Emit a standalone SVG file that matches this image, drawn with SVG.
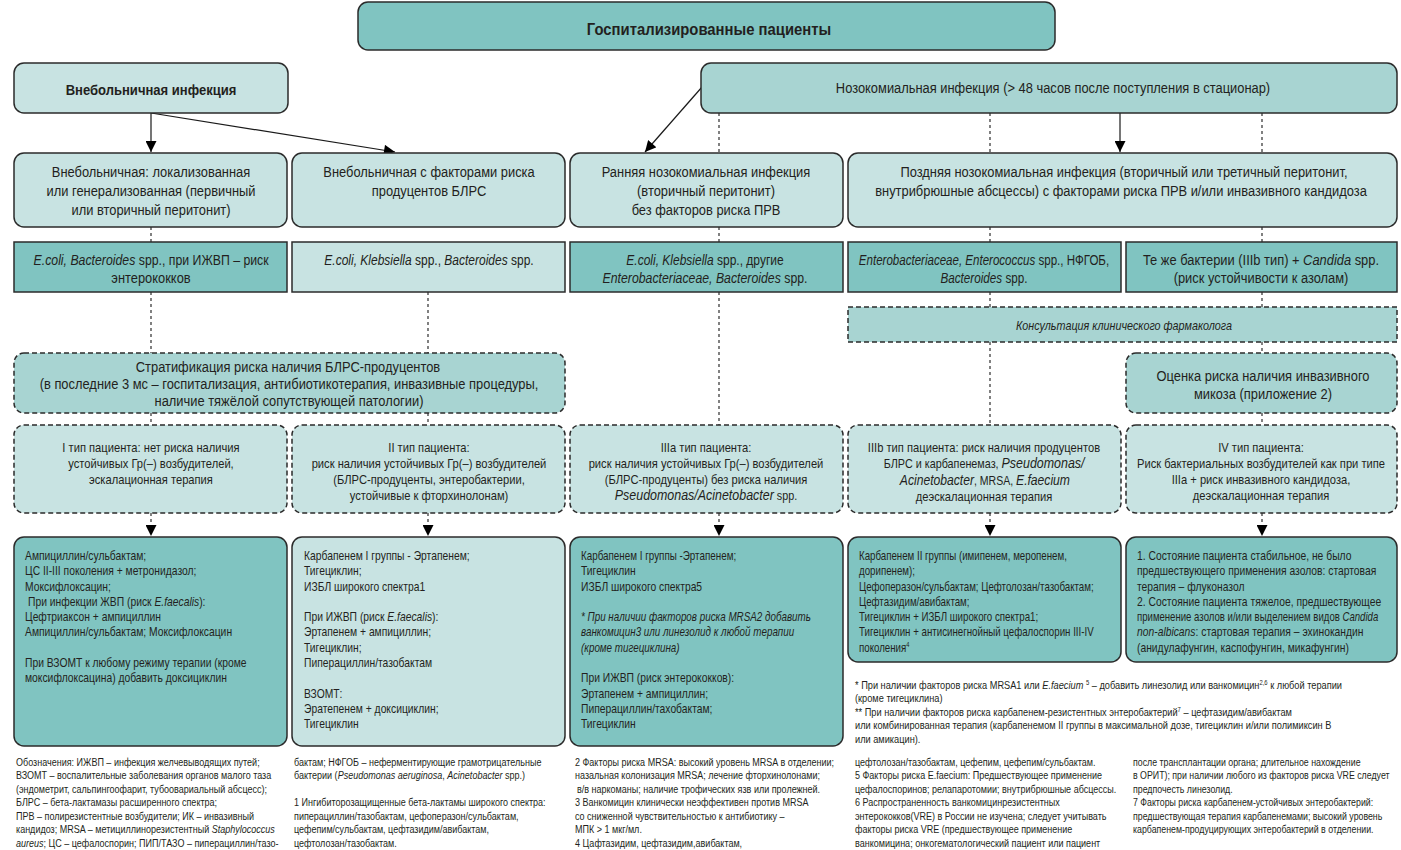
<svg xmlns="http://www.w3.org/2000/svg" width="1401" height="850" viewBox="0 0 1401 850">
<defs>
<style>
text{font-family:"Liberation Sans",Arial,sans-serif;fill:#231f20;transform-box:fill-box;transform-origin:0% 50%;transform:scaleX(.86)}
.c{text-anchor:middle;transform-origin:50% 50%}
.i{font-style:italic}
.b{font-weight:bold;transform:scaleX(.9)}
.x77{transform:scaleX(.77)}
.x78{transform:scaleX(.78)}
.x80{transform:scaleX(.80)}
.x81{transform:scaleX(.81)}
.x82{transform:scaleX(.82)}
.x83{transform:scaleX(.83)}
.x84{transform:scaleX(.84)}
.x90{transform:scaleX(.90)}
.dk{fill:#80c4c1;stroke:#2b2b2b;stroke-width:1.5}
.lt{fill:#c8e3e2;stroke:#2b2b2b;stroke-width:1.5}
.md{fill:#a8d4d2;stroke:#2b2b2b;stroke-width:1.5}
.ds{stroke-dasharray:5 3}
.s15{font-size:15px}
.s13{font-size:13px}
.s12{font-size:12px}
.s11{font-size:11px}
.ln{stroke:#1a1a1a;stroke-width:1.2;fill:none}
.dt{stroke:#1a1a1a;stroke-width:1.1;fill:none;stroke-dasharray:3 3}
</style>
<marker id="ah" viewBox="0 0 10 10" refX="10" refY="5" markerWidth="12" markerHeight="11" markerUnits="userSpaceOnUse" orient="auto">
<path d="M0,0 L10,5 L0,10 z" fill="#000"/>
</marker>
</defs>
<rect width="1401" height="850" fill="#fff"/>

<g id="connectors">
<path class="ln" d="M151,113 V152" marker-end="url(#ah)"/>
<path class="ln" d="M151,113 L395,152" marker-end="url(#ah)"/>
<path class="ln" d="M702,87 L645,152" marker-end="url(#ah)"/>
<path class="ln" d="M1120,113 V152" marker-end="url(#ah)"/>
<path class="dt" d="M719,113 V153 M990,113 V153 M1262,113 V153"/>
<path class="dt" d="M151,227 V242 M151,292 V353 M151,413 V425"/>
<path class="dt" d="M428,292 V353 M428,413 V425"/>
<path class="dt" d="M719,227 V242 M719,292 V425"/>
<path class="dt" d="M990,227 V242 M990,292 V307 M990,342 V425"/>
<path class="dt" d="M1262,227 V242 M1262,292 V307 M1262,342 V353 M1262,413 V425"/>
<path class="dt" d="M151,513 V536" marker-end="url(#ah)"/>
<path class="dt" d="M428,513 V536" marker-end="url(#ah)"/>
<path class="dt" d="M719,513 V536" marker-end="url(#ah)"/>
<path class="dt" d="M990,513 V536" marker-end="url(#ah)"/>
<path class="dt" d="M1262,513 V536" marker-end="url(#ah)"/>
</g>

<g id="n-hosp">
<rect class="dk" x="358" y="2" width="697" height="48" rx="10"/>
<text class="c b" x="709" y="35" font-size="16.5">Госпитализированные пациенты</text>
</g>
<g id="n-vneb">
<rect class="lt" x="14" y="63" width="274" height="50" rx="10"/>
<text class="c b" x="151" y="95" font-size="14.5">Внебольничная инфекция</text>
</g>
<g id="n-nozo">
<rect class="md" x="701" y="63" width="696" height="50" rx="10"/>
<text class="c s15" x="1053" y="93">Нозокомиальная инфекция (&gt; 48 часов после поступления в стационар)</text>
</g>

<g id="n-r2a">
<rect class="lt" x="14" y="153" width="273" height="74" rx="10"/>
<text class="c s15" x="151" y="177">Внебольничная: локализованная</text>
<text class="c s15" x="151" y="196">или генерализованная (первичный</text>
<text class="c s15" x="151" y="215">или вторичный перитонит)</text>
</g>
<g id="n-r2b">
<rect class="lt" x="292" y="153" width="273" height="74" rx="10"/>
<text class="c s15" x="429" y="177">Внебольничная с факторами риска</text>
<text class="c s15" x="429" y="196">продуцентов БЛРС</text>
</g>
<g id="n-r2c">
<rect class="lt" x="570" y="153" width="273" height="74" rx="10"/>
<text class="c s15" x="706" y="177">Ранняя нозокомиальная инфекция</text>
<text class="c s15" x="706" y="196">(вторичный перитонит)</text>
<text class="c s15" x="706" y="215">без факторов риска ПРВ</text>
</g>
<g id="n-r2d">
<rect class="lt" x="848" y="153" width="549" height="74" rx="10"/>
<text class="c s15" x="1124" y="177">Поздняя нозокомиальная инфекция (вторичный или третичный перитонит,</text>
<text class="c s15" x="1121" y="196">внутрибрюшные абсцессы) с факторами риска ПРВ и/или инвазивного кандидоза</text>
</g>

<g id="n-r3a">
<rect class="dk" x="14" y="242" width="273" height="50"/>
<text class="c s15 x82" x="151" y="265"><tspan class="i">E.coli, Bacteroides</tspan> spp., при ИЖВП – риск</text>
<text class="c s15" x="151" y="283">энтерококков</text>
</g>
<g id="n-r3b">
<rect class="lt" x="292" y="242" width="273" height="50"/>
<text class="c s15 x80" x="429" y="265"><tspan class="i">E.coli, Klebsiella</tspan> spp., <tspan class="i">Bacteroides</tspan> spp.</text>
</g>
<g id="n-r3c">
<rect class="dk" x="570" y="242" width="273" height="50"/>
<text class="c s15 x80" x="705" y="265"><tspan class="i">E.coli, Klebsiella</tspan> spp., другие</text>
<text class="c s15 x82" x="705" y="283"><tspan class="i">Enterobacteriaceae, Bacteroides</tspan> spp.</text>
</g>
<g id="n-r3d">
<rect class="dk" x="848" y="242" width="273" height="50"/>
<text class="c s15 x77" x="984" y="265"><tspan class="i">Enterobacteriaceae, Enterococcus</tspan> spp., НФГОБ,</text>
<text class="c s15 x78" x="984" y="283"><tspan class="i">Bacteroides</tspan> spp.</text>
</g>
<g id="n-r3e">
<rect class="dk" x="1126" y="242" width="271" height="50"/>
<text class="c s15" x="1261" y="265">Те же бактерии (IIIb тип) + <tspan class="i">Candida</tspan> spp.</text>
<text class="c s15" x="1261" y="283">(риск устойчивости к азолам)</text>
</g>

<g id="n-consult">
<rect class="md ds" x="848" y="307" width="549" height="35"/>
<text class="c i s12 x90" x="1124" y="330">Консультация клинического фармаколога</text>
</g>
<g id="n-strat">
<rect class="md ds" x="14" y="353" width="551" height="60" rx="10"/>
<text class="c s15" x="288" y="372">Стратификация риска наличия  БЛРС-продуцентов</text>
<text class="c s15" x="289" y="389">(в последние 3 мс – госпитализация, антибиотикотерапия, инвазивные процедуры,</text>
<text class="c s15" x="289" y="406">наличие тяжёлой сопутствующей  патологии)</text>
</g>
<g id="n-mycosis">
<rect class="md ds" x="1126" y="353" width="271" height="60" rx="10"/>
<text class="c s15" x="1263" y="381">Оценка риска наличия  инвазивного</text>
<text class="c s15" x="1263" y="399">микоза  (приложение 2)</text>
</g>

<g id="n-t1">
<rect class="lt ds" x="14" y="425" width="273" height="88" rx="10"/>
<text class="c s13" x="151" y="452">I тип пациента:  нет риска наличия</text>
<text class="c s13" x="151" y="468">устойчивых Гр(–) возбудителей,</text>
<text class="c s13" x="151" y="484">эскалационная терапия</text>
</g>
<g id="n-t2">
<rect class="lt ds" x="292" y="425" width="273" height="88" rx="10"/>
<text class="c s13" x="429" y="452">II тип пациента:</text>
<text class="c s13" x="429" y="468">риск наличия устойчивых Гр(–)  возбудителей</text>
<text class="c s13" x="429" y="484">(БЛРС-продуценты, энтеробактерии,</text>
<text class="c s13" x="429" y="500">устойчивые к фторхинолонам)</text>
</g>
<g id="n-t3a">
<rect class="lt ds" x="570" y="425" width="273" height="88" rx="10"/>
<text class="c s13" x="706" y="452">IIIa тип пациента:</text>
<text class="c s13" x="706" y="468">риск наличия устойчивых Гр(–)  возбудителей</text>
<text class="c s13" x="706" y="484">(БЛРС-продуценты)  без риска наличия</text>
<text class="c s13 x83" x="706" y="500"><tspan class="i" font-size="15">Pseudomonas/Acinetobacter</tspan> spp.</text>
</g>
<g id="n-t3b">
<rect class="lt ds" x="848" y="425" width="273" height="88" rx="10"/>
<text class="c s13" x="984" y="452">IIIb тип пациента:  риск наличия продуцентов</text>
<text class="c s13 x83" x="984" y="468">БЛРС и карбапенемаз, <tspan class="i" font-size="15">Pseudomonas/</tspan></text>
<text class="c s13 x81" x="985" y="485"><tspan class="i" font-size="15">Acinetobacter</tspan>, MRSA, <tspan class="i" font-size="15">E.faecium</tspan></text>
<text class="c s13" x="984" y="501">деэскалационная терапия</text>
</g>
<g id="n-t4">
<rect class="lt ds" x="1126" y="425" width="271" height="88" rx="10"/>
<text class="c s13" x="1261" y="452">IV тип пациента:</text>
<text class="c s13" x="1261" y="468">Риск бактериальных возбудителей как при типе</text>
<text class="c s13" x="1261" y="484">IIIa + риск инвазивного кандидоза,</text>
<text class="c s13" x="1261" y="500">деэскалационная терапия</text>
</g>

<g id="n-rx1">
<rect class="dk" x="14" y="537" width="273" height="209" rx="10"/>
<text class="s12" x="25" y="560">Ампициллин/сульбактам;</text>
<text class="s12" x="25" y="575.3">ЦС II-III поколения + метронидазол;</text>
<text class="s12" x="25" y="590.6">Моксифлоксацин;</text>
<text class="s12" x="28" y="605.9">При инфекции ЖВП (риск <tspan class="i">E.faecalis</tspan>):</text>
<text class="s12" x="25" y="621.2">Цефтриаксон + ампициллин</text>
<text class="s12" x="25" y="636.5">Ампициллин/сульбактам; Моксифлоксацин</text>
<text class="s12" x="25" y="667.1">При ВЗОМТ к любому режиму терапии (кроме</text>
<text class="s12" x="25" y="682.4">моксифлоксацина) добавить доксициклин</text>
</g>
<g id="n-rx2">
<rect class="lt" x="292" y="537" width="273" height="209" rx="10"/>
<text class="s12" x="304" y="560">Карбапенем I группы - Эртапенем;</text>
<text class="s12" x="304" y="575.3">Тигециклин;</text>
<text class="s12" x="304" y="590.6">ИЗБЛ широкого спектра1</text>
<text class="s12" x="304" y="621.2">При ИЖВП (риск <tspan class="i">E.faecalis</tspan>):</text>
<text class="s12" x="304" y="636.5">Эртапенем + ампициллин;</text>
<text class="s12" x="304" y="651.8">Тигециклин;</text>
<text class="s12" x="304" y="667.1">Пиперациллин/тазобактам</text>
<text class="s12" x="304" y="697.7">ВЗОМТ:</text>
<text class="s12" x="304" y="713">Эратепенем + доксициклин;</text>
<text class="s12" x="304" y="728.3">Тигециклин</text>
</g>
<g id="n-rx3">
<rect class="dk" x="570" y="537" width="273" height="209" rx="10"/>
<text class="s12 x82" x="581" y="560">Карбапенем I группы -Эртапенем;</text>
<text class="s12" x="581" y="575.3">Тигециклин</text>
<text class="s12" x="581" y="590.6">ИЗБЛ широкого спектра5</text>
<text class="s12 i x82" x="581" y="621.2">* При наличии факторов риска MRSA2 добавить</text>
<text class="s12 i x82" x="581" y="636.5">ванкомицин3 или линезолид к любой терапии</text>
<text class="s12 i x82" x="581" y="651.8">(кроме тигециклина)</text>
<text class="s12" x="581" y="682.4">При ИЖВП (риск энтерококков):</text>
<text class="s12" x="581" y="697.7">Эртапенем + ампициллин;</text>
<text class="s12" x="581" y="713">Пиперациллин/тахобактам;</text>
<text class="s12" x="581" y="728.3">Тигециклин</text>
</g>
<g id="n-rx4">
<rect class="dk" x="848" y="537" width="273" height="125" rx="10"/>
<text class="s12 x81" x="859" y="560">Карбапенем II группы (имипенем, меропенем,</text>
<text class="s12 x81" x="859" y="575.3">дорипенем);</text>
<text class="s12 x81" x="859" y="590.6">Цефоперазон/сульбактам; Цефтолозан/тазобактам;</text>
<text class="s12 x81" x="859" y="605.9">Цефтазидим/авибактам;</text>
<text class="s12 x81" x="859" y="621.2">Тигециклин  + ИЗБЛ широкого спектра1;</text>
<text class="s12 x81" x="859" y="636.5">Тигециклин + антисинегнойный цефалоспорин III-IV</text>
<text class="s12 x81" x="859" y="651.8">поколения<tspan font-size="7" dy="-5">4</tspan></text>
</g>
<g id="n-rx5">
<rect class="dk" x="1126" y="537" width="271" height="125" rx="10"/>
<text class="s12" x="1137" y="560">1. Состояние пациента стабильное, не было</text>
<text class="s12" x="1137" y="575.3">предшествующего применения азолов: стартовая</text>
<text class="s12" x="1137" y="590.6">терапия – флуконазол</text>
<text class="s12" x="1137" y="605.9">2. Состояние пациента тяжелое, предшествующее</text>
<text class="s12 x80" x="1137" y="621.2">применение азолов и/или выделением видов <tspan class="i">Candida</tspan></text>
<text class="s12" x="1137" y="636.5"><tspan class="i">non-albicans</tspan>: стартовая терапия – эхинокандин</text>
<text class="s12" x="1137" y="651.8">(анидулафунгин, каспофунгин, микафунгин)</text>
</g>

<g id="notes-rx">
<text class="s11 x84" x="855" y="689">* При наличии факторов риска MRSA1 или   <tspan class="i">E.faecium</tspan> <tspan font-size="7" dy="-4">5</tspan><tspan dy="4"> – добавить линезолид или ванкомицин</tspan><tspan font-size="7" dy="-4">2,6</tspan><tspan dy="4"> к любой терапии</tspan></text>
<text class="s11 x84" x="855" y="702.5">(кроме тигециклина)</text>
<text class="s11 x84" x="855" y="716">** При наличии факторов риска карбапенем-резистентных энтеробактерий<tspan font-size="7" dy="-4">7</tspan><tspan dy="4"> – цефтазидим/авибактам</tspan></text>
<text class="s11 x84" x="855" y="729.5">или  комбинированная терапия (карбапенемом II группы в максимальной дозе, тигециклин и/или полимиксин В</text>
<text class="s11 x84" x="855" y="743">или амикацин).</text>
</g>

<g id="footnotes">
<text class="s11 x82" x="16" y="766">Обозначения: ИЖВП – инфекция желчевыводящих путей;</text>
<text class="s11 x82" x="16" y="779.5">ВЗОМТ – воспалительные заболевания органов малого таза</text>
<text class="s11 x82" x="16" y="793">(эндометрит, сальпингоофарит, тубоовариальный абсцесс);</text>
<text class="s11 x82" x="16" y="806.5">БЛРС – бета-лактамазы расширенного спектра;</text>
<text class="s11 x82" x="16" y="820">ПРВ – полирезистентные возбудители; ИК – инвазивный</text>
<text class="s11 x82" x="16" y="833.5">кандидоз; MRSA – метициллинорезистентный <tspan class="i">Staphylococcus</tspan></text>
<text class="s11 x82" x="16" y="847"><tspan class="i">aureus</tspan>; ЦС – цефалоспорин; ПИП/ТАЗО – пиперациллин/тазо-</text>

<text class="s11 x82" x="294" y="766">бактам; НФГОБ – неферментирующие грамотрицательные</text>
<text class="s11 x82" x="294" y="779.5">бактерии (<tspan class="i">Pseudomonas aeruginosa</tspan>, <tspan class="i">Acinetobacter</tspan> spp.)</text>
<text class="s11 x82" x="294" y="806.5">1 Ингибиторозащищенные бета-лактамы широкого спектра:</text>
<text class="s11 x82" x="294" y="820">пиперациллин/тазобактам, цефоперазон/сульбактам,</text>
<text class="s11 x82" x="294" y="833.5">цефепим/сульбактам, цефтазидим/авибактам,</text>
<text class="s11 x82" x="294" y="847">цефтолозан/тазобактам.</text>

<text class="s11 x82" x="575" y="766">2  Факторы риска MRSA: высокий уровень MRSA в отделении;</text>
<text class="s11 x82" x="575" y="779.5">назальная колонизация MRSA; лечение фторхинолонами;</text>
<text class="s11 x82" x="577" y="793">в/в наркоманы; наличие трофических язв или пролежней.</text>
<text class="s11 x82" x="575" y="806.5">3  Ванкомицин клинически неэффективен против MRSA</text>
<text class="s11 x82" x="575" y="820">со сниженной чувствительностью к антибиотику –</text>
<text class="s11 x82" x="575" y="833.5">МПК &gt; 1 мкг/мл.</text>
<text class="s11 x82" x="575" y="847">4  Цафтазидим, цефтазидим,авибактам,</text>

<text class="s11 x82" x="855" y="766">цефтолозан/тазобактам, цефепим, цефепим/сульбактам.</text>
<text class="s11 x82" x="855" y="779.5">5  Факторы риска E.faecium: Предшествующее применение</text>
<text class="s11 x82" x="855" y="793">цефалоспоринов; релапаротомии; внутрибрюшные абсцессы.</text>
<text class="s11 x82" x="855" y="806.5">6  Распространенность ванкомицинрезистентных</text>
<text class="s11 x82" x="855" y="820">энтерококков(VRE) в России не изучена; следует учитывать</text>
<text class="s11 x82" x="855" y="833.5">факторы риска VRE (предшествующее применение</text>
<text class="s11 x82" x="855" y="847">ванкомицина; онкогематологический пациент или пациент</text>

<text class="s11 x80" x="1133" y="766">после трансплантации органа; длительное нахождение</text>
<text class="s11 x80" x="1133" y="779.5">в ОРИТ); при наличии любого из факторов риска VRE следует</text>
<text class="s11 x80" x="1133" y="793">предпочесть линезолид.</text>
<text class="s11 x80" x="1133" y="806.5">7  Факторы риска карбапенем-устойчивых энтеробактерий:</text>
<text class="s11 x80" x="1133" y="820">предшествующая терапия карбапенемами; высокий уровень</text>
<text class="s11 x80" x="1133" y="833.5">карбапенем-продуцирующих энтеробактерий в отделении.</text>
</g>
</svg>
